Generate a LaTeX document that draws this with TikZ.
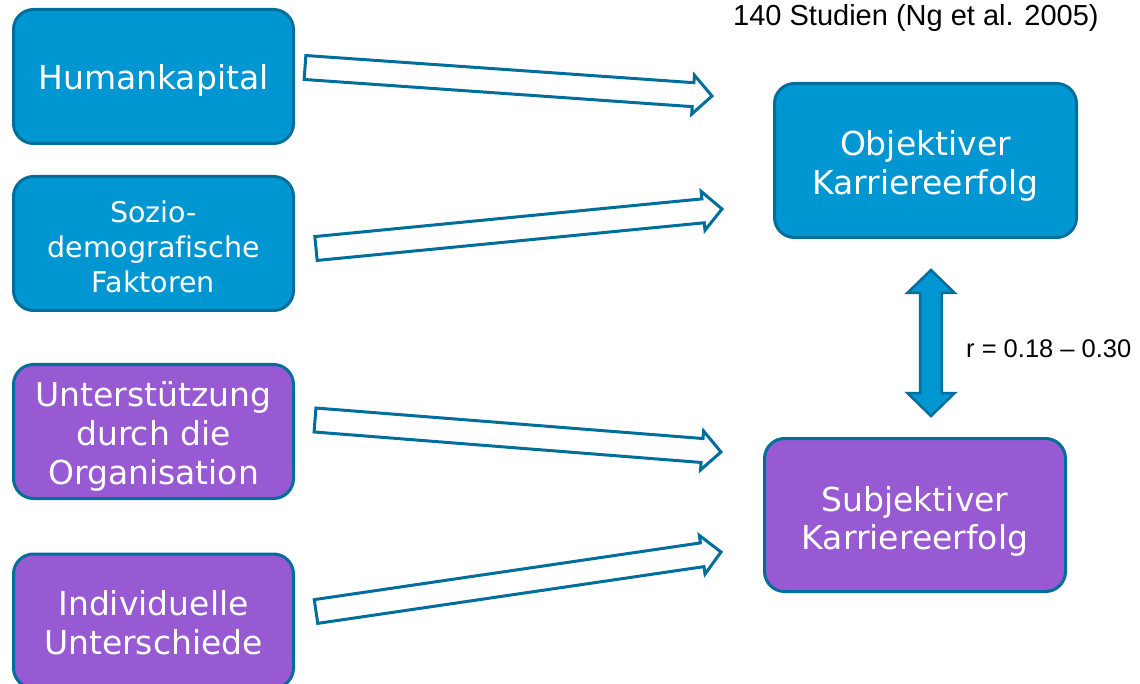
\documentclass[tikz,border=0pt]{standalone}
\usepackage{fontspec}
\setmainfont{DejaVu Sans}[Ligatures=NoCommon]
\newfontfamily\arialfont{Liberation Sans}
\usetikzlibrary{calc}
\definecolor{bfill}{RGB}{0,150,210}
\definecolor{bline}{RGB}{0,110,155}
\definecolor{pfill}{RGB}{152,90,210}
\tikzset{
  box/.style={draw=bline, line width=3pt, rounded corners=20pt, text=white, align=center,
    minimum width=280pt, minimum height=134pt, inner sep=0pt, font=\fontsize{33}{39}\selectfont},
  bluebox/.style={box, fill=bfill},
  purplebox/.style={box, fill=pfill},
  hollow/.style={draw=bline, line width=3pt, fill=white, line join=miter},
  dblarrow/.style={draw=bline, line width=2.5pt, fill=bfill, line join=miter},
  lbl/.style={text=black, inner sep=0pt, font=\arialfont\fontsize{25.5}{30}\selectfont}
}
% invisible strut on the first line that lowers the centred text block by #1
\newcommand{\dn}[1]{\rule{0pt}{\dimexpr 0.76em+2\dimexpr #1\relax\relax}}
\newcommand{\hollowarrow}[2]{%
  \path ($(#2)!19pt!(#1)$) coordinate (hb);
  \draw[hollow] ($(#1)!12pt!90:(#2)$) -- ($(hb)!12pt!90:(#2)$) -- ($(hb)!19.5pt!90:(#2)$) -- (#2)
    -- ($(hb)!19.5pt!-90:(#2)$) -- ($(hb)!12pt!-90:(#2)$) -- ($(#1)!12pt!-90:(#2)$) -- cycle;
}
\begin{document}
\begin{tikzpicture}[x=1pt,y=-1pt]
\useasboundingbox (0,0) rectangle (1140,684);
% left boxes
\node[bluebox] (hk) at (153.5,76.5) {\dn{4pt}Humankapital};
\node[bluebox, font=\fontsize{28.5}{35}\selectfont] (sd) at (153.5,243.5) {\dn{3pt}Sozio-\\demografische\\Faktoren};
\node[purplebox] (uo) at (153.5,431.5) {\dn{5pt}Unterstützung\\durch die\\Organisation};
\node[purplebox] (iu) at (153.5,621) {\dn{2pt}Individuelle\\Unterschiede};
% right boxes
\node[bluebox, minimum width=302pt, minimum height=154pt] (obj) at (925.5,160.5) {\dn{5pt}Objektiver\\Karriereerfolg};
\node[purplebox, minimum width=301pt, minimum height=153pt, font=\fontsize{33}{38}\selectfont] (subj) at (915,515) {\dn{6pt}Subjektiver\\Karriereerfolg};
% labels
\node[lbl, font=\arialfont\fontsize{29}{34}\selectfont, anchor=base west] (src) at (733,26) {140 Studien (Ng et al. 2005)};
\node[lbl, anchor=base west] (rlab) at (966,358) {r = 0.18 – 0.30};
% hollow arrows
\coordinate (a1) at (305,67.5);  \coordinate (b1) at (712,96);
\coordinate (a2) at (316,248.5); \coordinate (b2) at (722,209);
\coordinate (a3) at (315,420);   \coordinate (b3) at (721,452);
\coordinate (a4) at (316,611.5); \coordinate (b4) at (721,552);
\hollowarrow{a1}{b1}
\hollowarrow{a2}{b2}
\hollowarrow{a3}{b3}
\hollowarrow{a4}{b4}
% double arrow between objective and subjective success
\coordinate (dt) at (931,270);
\coordinate (db) at (931,416);
\draw[dblarrow] (dt) -- (954.7,293) -- (941.8,293) -- (941.8,393) -- (954.7,393) -- (db)
  -- (907.3,393) -- (920.2,393) -- (920.2,293) -- (907.3,293) -- cycle;
\end{tikzpicture}
\end{document}
